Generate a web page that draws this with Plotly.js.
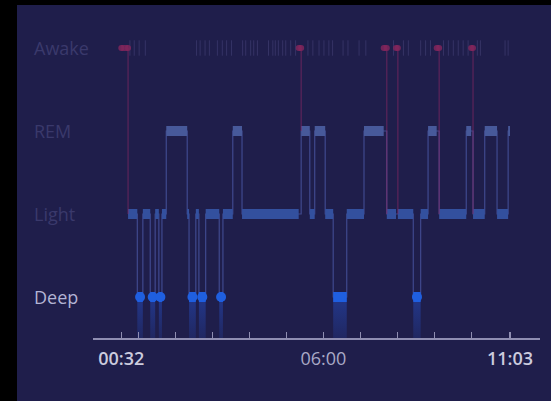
<!DOCTYPE html>
<html>
<head>
<meta charset="utf-8">
<script src="https://cdn.plot.ly/plotly-3.0.1.min.js"></script>
<style>
  html, body { margin: 0; padding: 0; background: #000; width: 551px; height: 401px; overflow: hidden; }
  #chart { position: absolute; left: 17px; top: 5px; width: 534px; height: 396px; }
</style>
</head>
<body>
<div id="chart"></div>
<script>
// ---- data ----
const stageNames = ['Deep', 'Light', 'REM', 'Awake'];
const segStage = ['Awake','Light','Deep','Light','Deep','Light','Deep','Light','REM','Light',
  'Deep','Light','Deep','Light','Deep','Light','REM','Light','Awake','REM',
  'Light','REM','Light','Deep','Light','REM','Awake','Light','Awake','Light',
  'Deep','Light','REM','Awake','Light','REM','Awake','Light','REM','Light','REM'];
const segStart = ['00:32','00:43','00:58','01:07','01:19','01:27','01:33','01:38','01:45','02:19',
  '02:22','02:33','02:38','02:49','03:11','03:17','03:33','03:48','05:20','05:24',
  '05:38','05:46','06:03','06:16','06:38','07:06','07:38','07:43','07:58','08:01',
  '08:26','08:38','08:50','09:04','09:08','09:52','10:00','10:03','10:22','10:42','11:00'];
const sleepEnd = '11:03';
const restlessTimes = ['00:46','00:53','01:01','01:11','02:34','02:40','02:48','02:55','03:08','03:16',
  '03:23','03:31','03:49','03:54','04:02','04:07','04:13','04:31','04:38','04:42','04:47','04:54',
  '04:59','05:07','05:15','05:35','05:43','05:53','06:01','06:09','06:15','06:32','06:40','06:58',
  '07:09','07:54','08:10','08:18','08:38','08:46','08:54','09:15','09:23','09:31','09:39','09:47',
  '09:55','10:10','10:15','10:55','11:00'];
const hourTicks = ['01:00','02:00','03:00','04:00','05:00','06:00','07:00','08:00','09:00','10:00'];
const labelTicks = ['00:32','06:00','11:03'];

// ---- helpers ----
const toH = s => { const [h, m] = s.split(':').map(Number); return h + m / 60; };
const level = name => stageNames.indexOf(name);
const xRange = [-0.232, 11.862];
const yRange = [-0.494, 3.217];

const segs = segStage.map((st, i) => ({
  stage: st,
  s: toH(segStart[i]),
  e: toH(i + 1 < segStart.length ? segStart[i + 1] : sleepEnd)
}));

const traces = [];

// Deep columns (gradient fill down to axis)
segs.filter(g => g.stage === 'Deep').forEach(g => {
  traces.push({
    x: [g.s, g.e, g.e, g.s, g.s], y: [0, 0, yRange[0], yRange[0], 0],
    mode: 'lines', line: { width: 0 }, fill: 'toself',
    fillgradient: { type: 'vertical', colorscale: [[0, 'rgba(38,80,200,0.18)'], [1, 'rgba(38,80,200,0.5)']] },
    hoverinfo: 'skip', showlegend: false
  });
});

// thin hypnogram line (awake handled separately)
const nonAwake = segs.filter(g => g.stage !== 'Awake');
const lx = [], ly = [];
nonAwake.forEach((g, i) => {
  const prevEnd = i > 0 ? nonAwake[i - 1].e : g.s;
  lx.push(i > 0 ? Math.max(g.s, prevEnd) : g.s); ly.push(level(g.stage));
});
lx.push(toH(sleepEnd)); ly.push(level(nonAwake[nonAwake.length - 1].stage));
traces.push({ x: lx, y: ly, mode: 'lines', line: { shape: 'hv', width: 1.2, color: 'rgba(95,115,210,0.5)' },
  hoverinfo: 'skip', showlegend: false });

// restless marks at awake row
traces.push({ x: restlessTimes.map(toH), y: restlessTimes.map(() => level('Awake')), mode: 'markers',
  marker: { symbol: 'line-ns', size: 11, line: { width: 1, color: 'rgba(62,60,112,0.7)' } },
  hoverinfo: 'skip', showlegend: false });

// thick plateaus
const bandStyle = { Light: '#33509e', REM: '#47599a' };
['Light', 'REM'].forEach(st => {
  const x = [], y = [];
  segs.filter(g => g.stage === st).forEach(g => { x.push(g.s, g.e, null); y.push(level(st), level(st), null); });
  traces.push({ x, y, mode: 'lines', line: { width: 10, color: bandStyle[st] }, hoverinfo: 'skip', showlegend: false });
});

// awake pink lines
segs.forEach((g, i) => {
  if (g.stage !== 'Awake') return;
  const next = segs[i + 1] ? level(segs[i + 1].stage) : level('Light');
  traces.push({ x: [g.e, g.e], y: [level('Awake'), next], mode: 'lines',
    line: { width: 1.2, color: 'rgba(135,40,100,0.6)' }, hoverinfo: 'skip', showlegend: false });
  traces.push({ x: [g.s, g.e], y: [level('Awake'), level('Awake')], mode: 'lines+markers',
    line: { width: 6, color: 'rgba(128,38,92,0.85)' }, marker: { size: 6, color: 'rgba(128,38,92,0.85)' },
    hoverinfo: 'skip', showlegend: false });
});

// deep dots
const dx = [], dy = [], mx = [];
segs.filter(g => g.stage === 'Deep').forEach(g => { dx.push(g.s, g.e, null); dy.push(0, 0, null); mx.push((g.s + g.e) / 2); });
traces.push({ x: dx, y: dy, mode: 'lines', line: { width: 10, color: '#1f5fe0' }, hoverinfo: 'skip', showlegend: false });
traces.push({ x: mx, y: mx.map(() => 0), mode: 'markers', marker: { size: 10, color: '#1f5fe0' }, hoverinfo: 'skip', showlegend: false });

// axes ticks
const allTicks = labelTicks.concat(hourTicks.filter(t => labelTicks.indexOf(t) < 0));
const tickText = allTicks.map((t, i) => labelTicks.indexOf(t) < 0 ? '' :
  (i === 0 || i === labelTicks.length - 1 ? t : '<span style="color:#a9a9c6;font-weight:400">' + t + '</span>'));

const annotations = stageNames.map(n => ({
  xref: 'paper', yref: 'y', x: -0.1365, y: level(n), xanchor: 'left', yanchor: 'middle',
  text: n, showarrow: false,
  font: { family: 'Open Sans', size: 18, color: n === 'Deep' ? '#b3b4d4' : '#3a396b' }
}));

const layout = {
  width: 534, height: 396,
  margin: { l: 76, r: 11, t: 25, b: 63 },
  paper_bgcolor: '#1f1e4b', plot_bgcolor: 'rgba(0,0,0,0)',
  showlegend: false,
  xaxis: {
    range: xRange, tickvals: allTicks.map(toH), ticktext: tickText,
    ticks: 'inside', ticklen: 6, tickwidth: 1.2, tickcolor: '#8f8eb2',
    showline: true, linecolor: '#8f8eb2', linewidth: 1.5,
    showgrid: false, zeroline: false, fixedrange: true,
    tickfont: { family: 'Open Sans', size: 18, color: '#cbcbde', weight: 600 },
    ticklabelstandoff: 4
  },
  xaxis2: {
    range: xRange, overlaying: 'x', anchor: 'y', side: 'bottom',
    tickvals: [toH(labelTicks[0]), toH(labelTicks[2])],
    ticks: 'inside', ticklen: 11, tickwidth: 1.2, tickcolor: '#8f8eb2',
    showticklabels: false, showline: false, showgrid: false, zeroline: false
  },
  yaxis: { range: yRange, showgrid: false, zeroline: false, showticklabels: false, showline: false, fixedrange: true },
  annotations
};

Plotly.newPlot('chart', traces, layout, { displayModeBar: false, staticPlot: true });
</script>
</body>
</html>
